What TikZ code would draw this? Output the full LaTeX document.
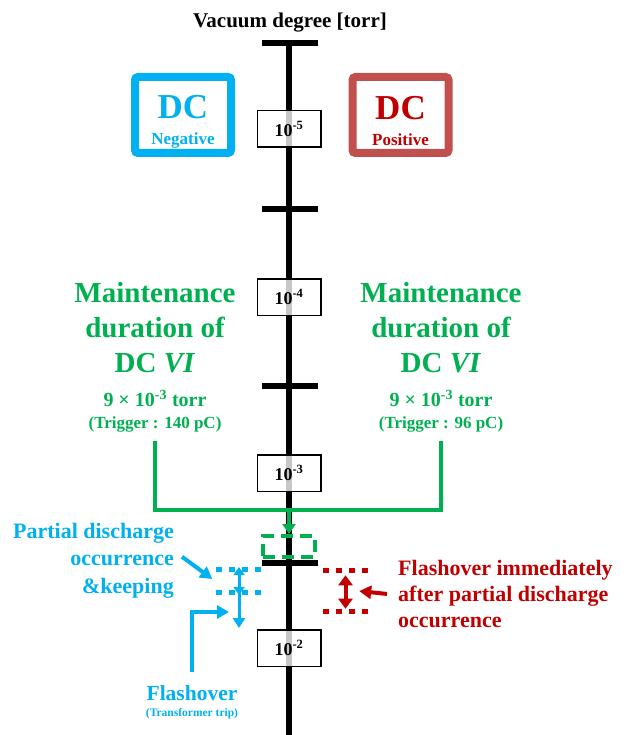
\documentclass[tikz,border=0pt]{standalone}
\usepackage{fontspec}
\setmainfont{Liberation Serif}
\usetikzlibrary{arrows.meta, positioning, calc}
\definecolor{negblue}{RGB}{0, 176, 240}
\definecolor{posframe}{RGB}{192, 80, 77}
\definecolor{posred}{RGB}{192, 0, 0}
\definecolor{vigreen}{RGB}{0, 176, 80}
\newcommand{\fs}[2]{\fontsize{#1}{#2}\selectfont\bfseries}

\begin{document}
\begin{tikzpicture}[x=1pt, y=-1pt,
    decade/.style={draw, line width=1.5pt, fill=white, fill opacity=0.78,
                   text opacity=1, minimum width=63.5pt, minimum height=36.5pt,
                   inner sep=0pt, font=\fs{18}{20}},
    dcframe/.style={line width=8pt, rounded corners=3pt, minimum width=96pt,
                    minimum height=76pt, inner sep=0pt, align=center,
                    font=\fs{17}{26}},
    gline/.style={vigreen, line width=4pt},
    dotline/.style={line width=5pt, dash pattern=on 6pt off 7pt},
    tip/.style={-{Triangle[length=#1, width=13pt]}}]
    \useasboundingbox (0,0) rectangle (623,735);

    % Title
    \node[anchor=base, font=\fs{21}{24}] (title) at (290,28) {Vacuum degree [torr]};

    % Axis
    \draw[line width=6pt] (289,43) -- (289,735);
    \foreach \y in {43, 209, 386, 563}
        \draw[line width=6pt] (262,\y) -- (318,\y);

    % Decade boxes
    \foreach \e/\y in {5/129, 4/297, 3/473, 2/648}
        \node[decade] (e\e) at (289,\y) {10\textsuperscript{-\e}};

    % Polarity boxes
    \node[dcframe, draw=negblue, text=negblue] (neg) at (183,115)
        {{\fs{35}{35}\rule{0pt}{36pt}DC}\\Negative};
    \node[dcframe, draw=posframe, text=posred] (pos) at (400.5,115)
        {{\fs{35}{35}\rule{0pt}{36pt}DC}\\Positive};

    % Maintenance duration
    \node[vigreen, align=center, inner sep=0pt, font=\fs{29}{35}, anchor=north]
        (mleft) at (155,282) {Maintenance\\duration of\\DC \textit{VI}};
    \node[vigreen, align=center, inner sep=0pt, font=\fs{17}{22}, below=17pt of mleft]
        (tleft) {{\fs{20}{22}9 × 10\textsuperscript{-3} torr}\\(Trigger : 140 pC)};
    \node[vigreen, align=center, inner sep=0pt, font=\fs{29}{35}, anchor=north]
        (mright) at (441,282) {Maintenance\\duration of\\DC \textit{VI}};
    \node[vigreen, align=center, inner sep=0pt, font=\fs{17}{22}, below=17pt of mright]
        (tright) {{\fs{20}{22}9 × 10\textsuperscript{-3} torr}\\(Trigger : 96 pC)};

    % Green join
    \node[draw=vigreen, line width=4pt, dash pattern=on 12pt off 7pt,
          minimum width=52pt, minimum height=21pt, inner sep=0pt] (dcrun) at (289,546.5) {};
    \coordinate (gjoin) at (289,510);
    \draw[gline] ([yshift=-8pt]tleft.south) |- (gjoin) -| ([yshift=-8pt]tright.south);
    \draw[gline, tip=10pt] (gjoin) -- (dcrun.north);

    % Negative side
    \node[negblue, align=right, inner sep=0pt, font=\fs{22}{27.5}, anchor=north east]
        (pd) at (174,523) {Partial discharge\\occurrence\\\&keeping};
    \node[minimum width=45pt, minimum height=22.5pt, inner sep=0pt] (pdbox) at (239,581) {};
    \draw[negblue, dotline] (pdbox.north west) -- (pdbox.north east);
    \draw[negblue, dotline] (pdbox.south west) -- (pdbox.south east);
    \draw[negblue, line width=3pt, shorten <=-2.5pt, shorten >=-2.5pt,
          {Triangle[length=8pt, width=11pt]}-{Triangle[length=8pt, width=11pt]}]
        (pdbox.north) -- (pdbox.south);
    \coordinate (pdend) at (239,628);
    \draw[negblue, line width=3pt, -{Triangle[length=10pt, width=12pt]}] (pdbox.south) -- (pdend);
    \draw[negblue, line width=4pt, tip=12pt] ([shift={(8pt,4pt)}]pd.east) -- ([shift={(-4pt,2pt)}]pdbox.west);

    \node[negblue, align=center, inner sep=0pt, font=\fs{11.5}{16}, anchor=north]
        (flash) at (192,685) {{\fs{21.5}{16}Flashover}\\(Transformer trip)};
    \coordinate (flashend) at (229,612);
    \draw[negblue, line width=4pt, tip=12pt] ([yshift=13pt]flash.north) |- (flashend);

    % Positive side
    \node[posred, align=left, inner sep=0pt, font=\fs{22}{26}, anchor=north west]
        (fo) at (398,560) {Flashover immediately\\after partial discharge\\occurrence};
    \node[minimum width=45pt, minimum height=41pt, inner sep=0pt] (fobox) at (345.5,591) {};
    \draw[posred, dotline] (fobox.north west) -- (fobox.north east);
    \draw[posred, dotline] (fobox.south west) -- (fobox.south east);
    \draw[posred, line width=4pt, shorten <=5pt, shorten >=3pt,
          {Triangle[length=10pt, width=14pt]}-{Triangle[length=10pt, width=14pt]}]
        (fobox.north) -- (fobox.south);
    \draw[posred, line width=4pt, tip=12pt] ([xshift=-11pt]fo.west) -- ([xshift=-9pt]fobox.east);
\end{tikzpicture}
\end{document}
